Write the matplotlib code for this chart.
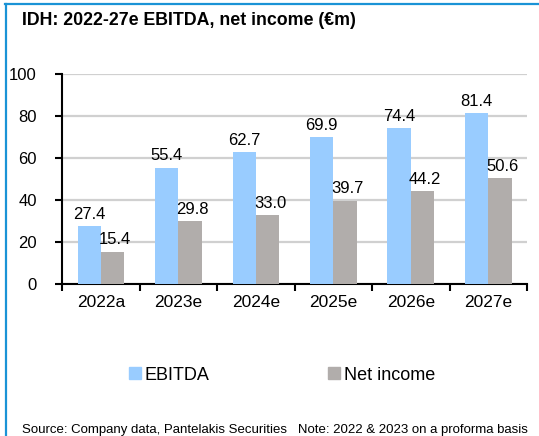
import numpy as np
import matplotlib.pyplot as plt
from matplotlib.patches import Patch
from matplotlib.lines import Line2D

years = ["2022a", "2023e", "2024e", "2025e", "2026e", "2027e"]
ebitda = [27.4, 55.4, 62.7, 69.9, 74.4, 81.4]
net_income = [15.4, 29.8, 33.0, 39.7, 44.2, 50.6]
y_ticks = [0, 20, 40, 60, 80, 100]

def main():
  plt.rcParams['font.family'] = ['Liberation Sans', 'DejaVu Sans']
  fig = plt.figure(figsize=(5.39, 4.36), dpi=100)
  ax = fig.add_axes([62/539, 1-284/436, 465/539, 210/436])

  x = np.arange(len(years)) + 0.5
  w = 0.3
  blue = '#99ccff'
  grey = '#b1adab'
  ax.bar(x - w/2, ebitda, w, color=blue, zorder=3)
  ax.bar(x + w/2, net_income, w, color=grey, zorder=3)

  for xi, v in zip(x - w/2, ebitda):
    ax.annotate("%.1f" % v, (xi, v), xytext=(0, 3), textcoords='offset points',
                ha='center', va='bottom', fontsize=12)
  for xi, v in zip(x + w/2, net_income):
    ax.annotate("%.1f" % v, (xi, v), xytext=(2, 3), textcoords='offset points',
                ha='center', va='bottom', fontsize=12)

  ax.set_xlim(0, len(years))
  ax.set_ylim(0, 100)
  ax.set_yticks(y_ticks)
  ax.set_yticklabels([str(t) for t in y_ticks], fontsize=12)
  ax.set_xticks(np.arange(len(years) + 1))
  ax.set_xticklabels([])
  ax.set_xticks(x, minor=True)
  ax.set_xticklabels(years, minor=True, fontsize=12.5)
  ax.tick_params(axis='x', which='minor', length=0, pad=8)
  ax.tick_params(axis='x', which='major', length=5, width=1.5, direction='out')
  ax.tick_params(axis='y', length=5, width=1.5, direction='out', pad=13)

  ax.yaxis.grid(True, color='#d0d0d0', linewidth=1.6, zorder=0)
  ax.set_axisbelow(True)
  for s in ['top', 'right']:
    ax.spines[s].set_visible(False)
  for s in ['left', 'bottom']:
    ax.spines[s].set_linewidth(1.5)

  # title, frame lines and footer
  fig.text(22/539, 1-12/436, "IDH: 2022-27e EBITDA, net income (\u20acm)",
           fontsize=12.8, fontweight='bold', va='top', ha='left')
  fig.add_artist(Line2D([5/539, 1], [1-4/436, 1-4/436], color='#1a93d6', linewidth=1.6))
  fig.add_artist(Line2D([6/539, 6/539], [0, 1-4/436], color='#1a93d6', linewidth=1.6))
  fig.text(22/539, 1-430/436,
           "Source: Company data, Pantelakis Securities   Note: 2022 & 2023 on a proforma basis",
           fontsize=9.5, va='center', ha='left')

  handles = [Patch(color=blue, label='EBITDA'), Patch(color=grey, label='Net income')]
  fig.legend(handles=handles, loc='center', bbox_to_anchor=(282/539, 1-375/436), ncol=2,
             frameon=False, fontsize=13, handlelength=0.65, handleheight=0.65,
             handletextpad=0.2, columnspacing=6.6)

  fig.savefig('out.png', dpi=100)
  return

if __name__=="__main__":
    main()
